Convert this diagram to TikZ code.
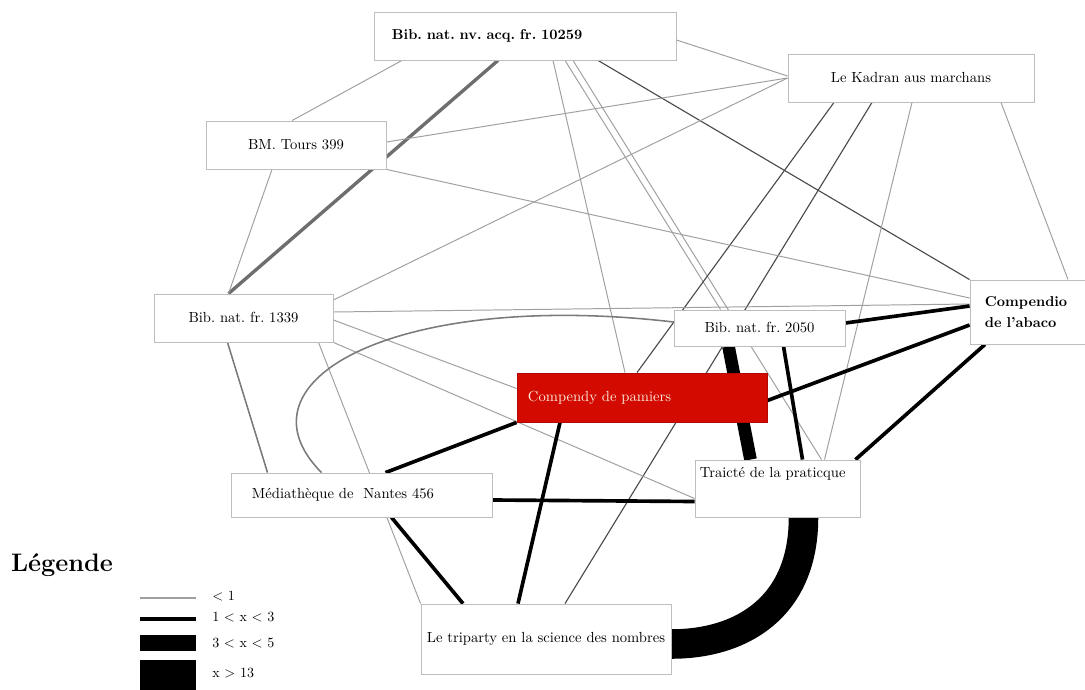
\documentclass[tikz,border=0pt]{standalone}
\usepackage{tikz}
\usetikzlibrary{backgrounds}
\frenchspacing
\definecolor{boxline}{HTML}{BDBDBD}
\definecolor{pamfill}{HTML}{D20A00}
\definecolor{pamtext}{HTML}{FCEBDD}
\definecolor{faintclr}{HTML}{A0A0A0}
\definecolor{darkclr}{HTML}{4A4A4A}
\definecolor{greyclr}{HTML}{7A7A7A}
\tikzset{
  box/.style      = {draw=boxline, fill=white, line width=0.6pt, inner ysep=0pt, align=center,
                     font=\fontsize{10.4}{12.5}\selectfont},
  lead/.style     = {box, font=\fontsize{10.2}{12.5}\selectfont\bfseries},
  redbox/.style   = {box, fill=pamfill, draw=pamfill!85!black, text=pamtext},
  faint/.style    = {draw=faintclr, line width=0.7pt},
  darkline/.style = {draw=darkclr, line width=0.8pt},
  greyline/.style = {draw=greyclr, line width=1.1pt},
  greybar/.style  = {draw=greyclr!90!black, line width=2.4pt},
  medline/.style  = {draw=black, line width=2.6pt},
  thickbar/.style = {draw=black, line width=9pt},
  massive/.style  = {draw=black, line width=21pt},
  keytext/.style  = {anchor=west, inner sep=0pt, font=\normalsize},
}

\begin{document}
\begin{tikzpicture}[x=0.025cm, y=-0.025cm]
\useasboundingbox (0,0) rectangle (1085,690);

%% manuscripts
\node[lead, minimum width=7.55cm, minimum height=1.2cm, text width=6.65cm, inner xsep=0.45cm, align=left]
  (ms10259) at (525,36) {Bib. nat. nv. acq. fr. 10259};
\node[box, minimum width=6.15cm, minimum height=1.2cm] (kadran) at (911,78) {Le Kadran aus marchans};
\node[box, minimum width=4.5cm, minimum height=1.2cm] (tours) at (296,145) {BM. Tours 399};
\node[box, minimum width=4.475cm, minimum height=1.2cm] (ms1339) at (243.5,318) {Bib. nat. fr. 1339};
\node[lead, minimum width=3.05cm, minimum height=1.6cm, text width=2.3cm, inner xsep=0.375cm, align=left]
  (compendio) at (1031,312) {Compendio\\[2pt]de l'abaco};
\node[box, minimum width=4.275cm, minimum height=0.9cm] (ms2050) at (759.5,328) {Bib. nat. fr. 2050};
\node[redbox, minimum width=6.25cm, minimum height=1.225cm, text width=5.7cm, inner xsep=0.275cm, align=left]
  (pamiers) at (642,397.5) {Compendy de pamiers};
\node[box, minimum width=6.525cm, minimum height=1.1cm, text width=5.475cm, inner xsep=0.525cm, align=left]
  (nantes) at (361.5,495) {Médiathèque de\ \ Nantes 456};
\node[box, minimum width=4.125cm, minimum height=1.425cm, text width=3.875cm, inner xsep=0.125cm,
  inner ysep=0.1cm, text depth=0.8cm, align=left] (traicte) at (777.5,488.5) {Traicté de la praticque};
\node[box, minimum width=6.25cm, minimum height=1.75cm] (triparty) at (546,639) {Le triparty en la science des nombres};

%% links
\begin{scope}[on background layer]
  \draw[faint] ([shift={(-123,0)}]ms10259.south) -- ([shift={(-4,0)}]tours.north);
  \draw[greybar] ([shift={(-27,0)}]ms10259.south) -- ([shift={(-15,0)}]ms1339.north);
  \draw[faint] ([shift={(0,4)}]ms10259.east) -- ([shift={(0,-2)}]kadran.west);
  \draw[faint] ([shift={(28,0)}]ms10259.south) -- ([shift={(-17,0)}]pamiers.north);
  \draw[faint] ([shift={(40,0)}]ms10259.south) -- ([shift={(-39,0)}]ms2050.north);
  \draw[faint] ([shift={(48,0)}]ms10259.south) -- ([shift={(44,0)}]traicte.north);
  \draw[darkline] ([shift={(73,0)}]ms10259.south) -- (compendio.north west);

  \draw[faint] (kadran.west) -- ([shift={(0,-3)}]tours.east);
  \draw[faint] (kadran.west) -- ([shift={(0,-18)}]ms1339.east);
  \draw[darkline] ([shift={(-77,0)}]kadran.south) -- ([shift={(-5,0)}]pamiers.north);
  \draw[darkline] ([shift={(-39,0)}]kadran.south) -- ([shift={(19,0)}]triparty.north);
  \draw[faint] ([shift={(1,0)}]kadran.south) -- ([shift={(47,0)}]traicte.north);
  \draw[faint] ([shift={(90,0)}]kadran.south) -- ([shift={(37,0)}]compendio.north);

  \draw[faint] ([shift={(-24,0)}]tours.south) -- ([shift={(-15,0)}]ms1339.north);
  \draw[faint] (tours.south east) -- ([shift={(0,-14)}]compendio.west);

  \draw[faint] ([shift={(0,-6)}]ms1339.east) -- ([shift={(0,-8)}]compendio.west);
  \draw[faint] ([shift={(0,2)}]ms1339.east) -- ([shift={(0,-9)}]pamiers.west);
  \draw[faint] (ms1339.south east) -- ([shift={(0,10)}]traicte.west);
  \draw[greyline] ([shift={(-16,0)}]ms1339.south) -- ([shift={(-94,0)}]nantes.north);
  \draw[faint] ([shift={(75,0)}]ms1339.south) -- (triparty.north west);

  \draw[greyline] ([shift={(0,-6)}]ms2050.west) .. controls +(-274,-32) and +(-92,-93) .. ([shift={(-40,0)}]nantes.north);
  \draw[medline] ([shift={(0,-5)}]ms2050.east) -- ([shift={(0,-6)}]compendio.west);
  \draw[thickbar] ([shift={(-31,0)}]ms2050.south) -- ([shift={(-27,0)}]traicte.north);
  \draw[medline] ([shift={(24,0)}]ms2050.south) -- ([shift={(25,0)}]traicte.north);

  \draw[medline] ([shift={(0,3)}]pamiers.east) -- ([shift={(0,13)}]compendio.west);
  \draw[medline] (pamiers.south west) -- ([shift={(24,0)}]nantes.north);
  \draw[medline] ([shift={(-82,0)}]pamiers.south) -- ([shift={(-28,0)}]triparty.north);

  \draw[medline] ([shift={(-5,0)}]traicte.north east) -- ([shift={(-46,0)}]compendio.south);
  \draw[medline] ([shift={(0,13)}]traicte.west) -- ([shift={(0,5)}]nantes.east);
  \draw[massive] ([shift={(26,0)}]traicte.south) .. controls +(0,90) and +(70,0) .. ([shift={(0,5)}]triparty.east);

  \draw[medline] ([shift={(30,0)}]nantes.south) -- ([shift={(-83,0)}]triparty.north);
\end{scope}

%% legend
\node[font=\fontsize{18}{20}\selectfont\bfseries] (legend) at (62,565) {Légende};
\node[keytext] (key1) at (212,596) {< 1};
\node[keytext] (key2) at (212,617) {1 < x < 3};
\node[keytext] (key3) at (212,643) {3 < x < 5};
\node[keytext] (key4) at (212,673) {x > 13};
\draw[faint, line width=1pt] ([shift={(-16,2)}]key1.west) -- ++(-56,0);
\draw[black, line width=3.5pt] ([shift={(-16,2)}]key2.west) -- ++(-56,0);
\draw[black, line width=11.4pt] ([shift={(-16,0)}]key3.west) -- ++(-56,0);
\draw[black, line width=21pt] ([shift={(-16,2)}]key4.west) -- ++(-56,0);

\end{tikzpicture}
\end{document}
